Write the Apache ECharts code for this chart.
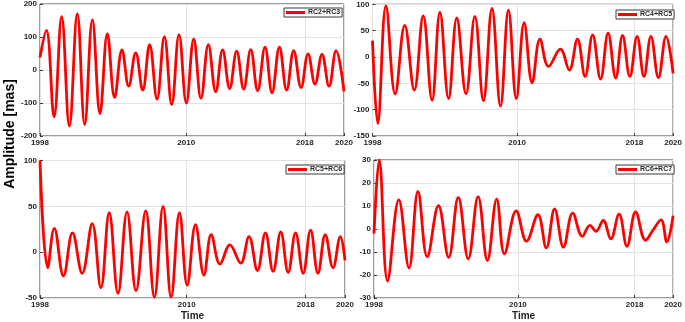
<!DOCTYPE html>
<html>
<head>
<meta charset="utf-8">
<script src="https://cdn.jsdelivr.net/npm/echarts@6/dist/echarts.min.js"></script>
<style>
html, body { margin: 0; padding: 0; background: #fff; }
#main { width: 685px; height: 322px; }
</style>
</head>
<body>
<div id="main"></div>
<script>
// x is months since the start of the record (0..264); the year ticks sit where the original figure put them
var xTickPos = [0, 127, 230, 264];
var xTickLabels = ['1998', '2010', '2018', '2020'];

// turning points (month, amplitude in mas)
var rc23T = [0, 5.5, 12.2, 18.8, 25.5, 32.4, 38.8, 45.5, 52.1, 58.5, 64.8, 71.2, 77.0, 83.1, 89.2, 95.2, 101.6, 108.0, 114.4, 120.7,
  127.1, 133.5, 139.8, 146.2, 152.6, 158.6, 164.7, 170.8, 176.9, 183.0, 189.0, 195.4, 201.5, 207.9, 214.2, 220.3, 226.7, 232.8, 238.8, 244.9,
  251.0, 257.1, 264];
var rc23V = [38, 120, -142, 162, -170, 170, -165, 152, -132, 110, -83, 61, -49, 52, -61, 77, -88, 101, -105, 107,
  -100, 94, -86, 77, -66, 61, -56, 57, -58, 62, -63, 69, -69, 69, -61, 59, -53, 49, -43, 47,
  -49, 59, -65];

var rc45T = [0, 4.6, 11.8, 19.9, 28.3, 36.7, 44.5, 52.3, 59.2, 66.8, 74.0, 82.1, 89.9, 97.4, 104.9, 112.4, 119.4, 126.3, 133.2, 140.2,
  147.1, 154.6, 165.0, 172.8, 180.0, 186.7, 193.3, 200.3, 206.9, 213.6, 219.6, 226.0, 232.4, 238.4, 244.5, 251.1, 257.8, 264];
var rc45V = [31, -126, 97, -70, 60, -63, 78, -82, 85, -79, 74, -70, 77, -83, 92, -93, 89, -79, 65, -49,
  34, -18, 15, -25, 34, -37, 42, -42, 45, -40, 41, -37, 39, -37, 39, -39, 39, -31];

var rc56T = [0, 6.7, 12.4, 20.3, 28.1, 36.5, 45.2, 52.7, 59.9, 67.5, 75.3, 83.1, 91.5, 99.0, 106.5, 113.5, 120.7, 127.4, 134.6, 141.9,
  148.2, 155.8, 164.4, 173.7, 180.9, 188.2, 195.1, 201.8, 208.4, 214.8, 221.2, 227.8, 234.2, 240.6, 246.9, 253.6, 260.0, 264];
var rc56V = [100, -17, 26, -26, 21, -23, 31, -39, 43, -45, 44, -42, 45, -49, 50, -49, 43, -36, 30, -25,
  19, -13, 8, -12, 17, -20, 21, -21, 22, -22, 21, -23, 24, -23, 19, -17, 17, -9];

var rc67T = [0, 4.6, 12.0, 21.9, 30.9, 38.8, 47.0, 56.9, 65.9, 74.4, 83.2, 91.9, 100.1, 108.3, 115.1, 125.5, 134.6, 144.7, 152.1, 159.4,
  167.2, 175.4, 183.9, 190.6, 195.9, 202.3, 209.0, 216.3, 223.3, 230.9, 239.7, 246.0, 253.3, 258.5, 264];
var rc67V = [-2, 30, -22.6, 12.7, -16.9, 16.3, -12.1, 10.1, -12.3, 13.7, -13, 14.1, -13.7, 13, -10.8, 7.9, -5.3, 6.2, -8.2, 8.7,
  -7.9, 6.9, -3.2, 1.6, -1, 3.7, -4.3, 6.5, -7.5, 7.4, -4.9, -0.7, 4, -5.6, 5.8];

var names = ['RC2+RC3', 'RC4+RC5', 'RC5+RC6', 'RC6+RC7'];
var yMin = [-200, -150, -50, -30];
var yMax = [200, 100, 100, 30];
var yStep = [100, 50, 50, 10];

function pairs(t, v) {
  return t.map(function (x, i) { return [x, v[i]]; });
}
var seriesData = [pairs(rc23T, rc23V), pairs(rc45T, rc45V), pairs(rc56T, rc56V), pairs(rc67T, rc67V)];

var frameColor = '#3a3a3a';
var labelStyle = { fontFamily: 'Liberation Sans', fontWeight: 'bold', fontSize: 8, color: '#262626' };

var grids = [
  { left: 40, top: 3.5, width: 304, height: 132.5 },
  { left: 372.5, top: 4.3, width: 304, height: 131.7 },
  { left: 40, top: 160.5, width: 305, height: 138.5 },
  { left: 374, top: 160, width: 301.5, height: 139 }
];
var legendPos = [
  { left: 284, top: 8 },
  { left: 616, top: 10 },
  { left: 286, top: 165 },
  { left: 616, top: 165 }
];

var option = {
  animation: false,
  backgroundColor: '#fff',
  grid: grids.map(function (g) {
    return Object.assign({ show: true, borderColor: frameColor, borderWidth: 1, backgroundColor: '#fff' }, g);
  }),
  xAxis: grids.map(function (g, i) {
    return {
      type: 'value', gridIndex: i, min: 0, max: 264,
      name: i >= 2 ? 'Time' : '',
      nameLocation: 'middle',
      nameGap: 13,
      nameTextStyle: { fontFamily: 'Liberation Sans', fontWeight: 'bold', fontSize: 10, color: '#262626' },
      axisLine: { show: false, onZero: false },
      axisTick: { inside: true, length: 3, customValues: xTickPos, lineStyle: { color: frameColor } },
      axisLabel: Object.assign({
        margin: 3,
        customValues: xTickPos,
        formatter: function (v) {
          var k = xTickPos.indexOf(v);
          return k >= 0 ? xTickLabels[k] : '';
        }
      }, labelStyle),
      splitLine: { show: true, lineStyle: { color: '#e2e2e2', width: 1 } }
    };
  }),
  yAxis: grids.map(function (g, i) {
    return {
      type: 'value', gridIndex: i, min: yMin[i], max: yMax[i], interval: yStep[i],
      axisLine: { show: false, onZero: false },
      axisTick: { inside: true, length: 3, lineStyle: { color: frameColor } },
      axisLabel: Object.assign({ margin: 3 }, labelStyle),
      splitLine: { show: true, lineStyle: { color: '#e2e2e2', width: 1 } }
    };
  }),
  legend: names.map(function (n, i) {
    return Object.assign({
      data: [n],
      orient: 'horizontal',
      selectedMode: false,
      icon: 'rect',
      itemWidth: 19,
      itemHeight: 3,
      itemGap: 0,
      padding: [1, 2, 1, 2],
      borderColor: frameColor,
      borderWidth: 1,
      backgroundColor: '#fff',
      textStyle: { fontFamily: 'Liberation Sans', fontWeight: 'bold', fontSize: 7, color: '#262626', padding: [0, 0, 0, -2] }
    }, legendPos[i]);
  }),
  graphic: [{
    type: 'text',
    x: 10, y: 134,
    rotation: Math.PI / 2,
    style: {
      text: 'Amplitude [mas]',
      font: 'bold 14px "Liberation Sans"',
      fill: '#000',
      textAlign: 'center',
      textVerticalAlign: 'middle'
    }
  }],
  series: names.map(function (n, i) {
    return {
      name: n,
      type: 'line',
      xAxisIndex: i,
      yAxisIndex: i,
      data: seriesData[i],
      smooth: 0.4,
      showSymbol: false,
      symbol: 'none',
      color: '#ff0000',
      lineStyle: { color: '#ff0000', width: 2.8 }
    };
  })
};

var chart = echarts.init(document.getElementById('main'));
chart.setOption(option);
</script>
</body>
</html>
